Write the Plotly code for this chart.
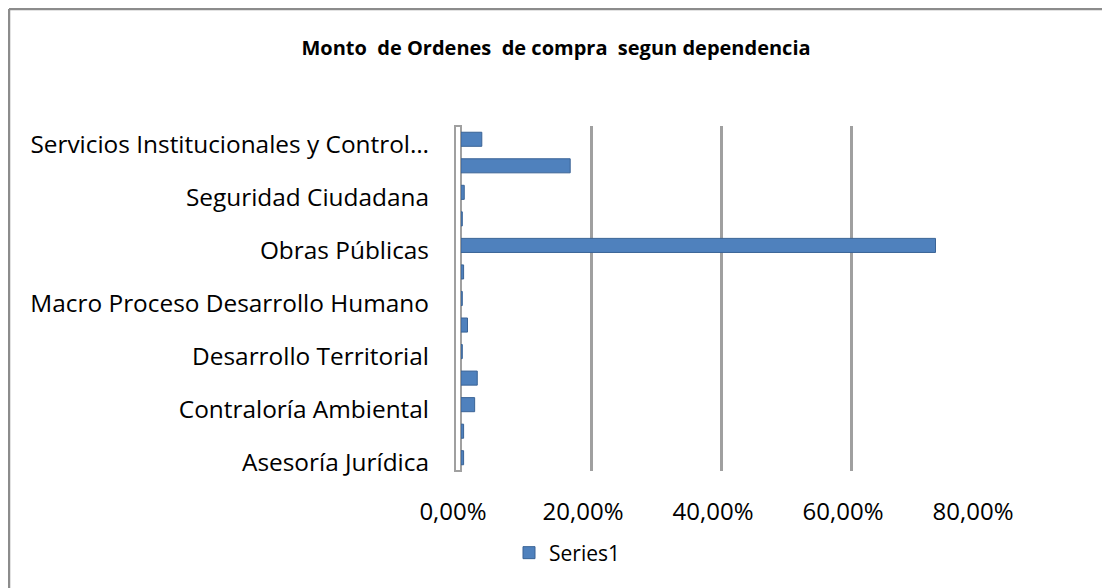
import plotly.graph_objects as go

categories = [
    "Asesoría Jurídica",
    "Comunicaciones",
    "Contraloría Ambiental",
    "Control Interno",
    "Desarrollo Territorial",
    "Hacienda",
    "Macro Proceso Desarrollo Humano",
    "Movilidad",
    "Obras Públicas",
    "Planeación",
    "Seguridad Ciudadana",
    "Servicios Administrativos",
    "Servicios Institucionales y Control Interno",
]
values = [0.004, 0.004, 0.021, 0.025, 0.002, 0.010, 0.002, 0.004, 0.73, 0.002, 0.005, 0.168, 0.032]
shown_labels = [
    "Asesoría Jurídica",
    "Contraloría Ambiental",
    "Desarrollo Territorial",
    "Macro Proceso Desarrollo Humano",
    "Obras Públicas",
    "Seguridad Ciudadana",
    "Servicios Institucionales y Control Interno",
]
shown_text = [
    "Asesoría Jurídica",
    "Contraloría Ambiental",
    "Desarrollo Territorial",
    "Macro Proceso Desarrollo Humano",
    "Obras Públicas",
    "Seguridad Ciudadana",
    "Servicios Institucionales y Control…",
]
x_ticks = [0, 0.2, 0.4, 0.6, 0.8]
x_tick_text = ["0,00%", "20,00%", "40,00%", "60,00%", "80,00%"]

# page has an 8px body margin; figure coordinates below are relative to it
W, H = 1102, 580
L, R, T, B = 453, 129, 118, 117
pw, ph = W - L - R, H - T - B

fig = go.Figure()
fig.add_trace(go.Bar(
    y=categories, x=values, orientation="h", name="Series1",
    marker=dict(color="#4F81BD", line=dict(color="#3A6396", width=1)),
    width=0.53, showlegend=True,
))

def px_x(p):
    return (p - L) / pw

def px_y(p):
    return (H - B - p) / ph

border = dict(color="#8c8c8c", width=2.5)
fig.update_layout(
    width=W, height=H,
    margin=dict(l=L, r=R, t=T, b=B, autoexpand=False),
    paper_bgcolor="white", plot_bgcolor="white",
    font=dict(family="Open Sans", color="black"),
    title=dict(text="<b>Monto  de Ordenes  de compra  segun dependencia</b>",
               x=548 / W, xanchor="center", y=1 - 40 / H, yanchor="middle",
               font=dict(family="Open Sans", size=20, color="black")),
    xaxis=dict(range=[0, 0.8], tickvals=x_ticks, ticktext=x_tick_text,
               showgrid=True, gridcolor="#a0a0a0", gridwidth=2.5,
               zeroline=True, zerolinecolor="#a0a0a0", zerolinewidth=2,
               showline=False, ticks="", ticklabelstandoff=24, ticklabelshift=-8,
               tickfont=dict(size=24, family="Open Sans")),
    yaxis=dict(categoryorder="array", categoryarray=categories,
               range=[-0.5, len(categories) - 0.5],
               tickvals=shown_labels, ticktext=shown_text,
               showgrid=False, showline=False, ticks="", ticklabelstandoff=31,
               ticklabelshift=5,
               tickfont=dict(size=24.4, family="Open Sans")),
    legend=dict(orientation="h", x=px_x(501), xanchor="left",
                y=px_y(545), yanchor="middle", itemwidth=30,
                font=dict(size=21, family="Open Sans")),
    bargap=0.45,
    shapes=[
        dict(type="line", xref="paper", yref="paper",
             x0=px_x(1), x1=px_x(W + 20), y0=px_y(1), y1=px_y(1), line=border),
        dict(type="line", xref="paper", yref="paper",
             x0=px_x(1), x1=px_x(1), y0=px_y(1), y1=px_y(H + 20), line=border),
        dict(type="rect", xref="paper", yref="paper",
             x0=px_x(447), x1=px_x(453), y0=0, y1=1, layer="below",
             line=dict(color="#a0a0a0", width=2)),
    ],
)

fig.write_html("out.html")
